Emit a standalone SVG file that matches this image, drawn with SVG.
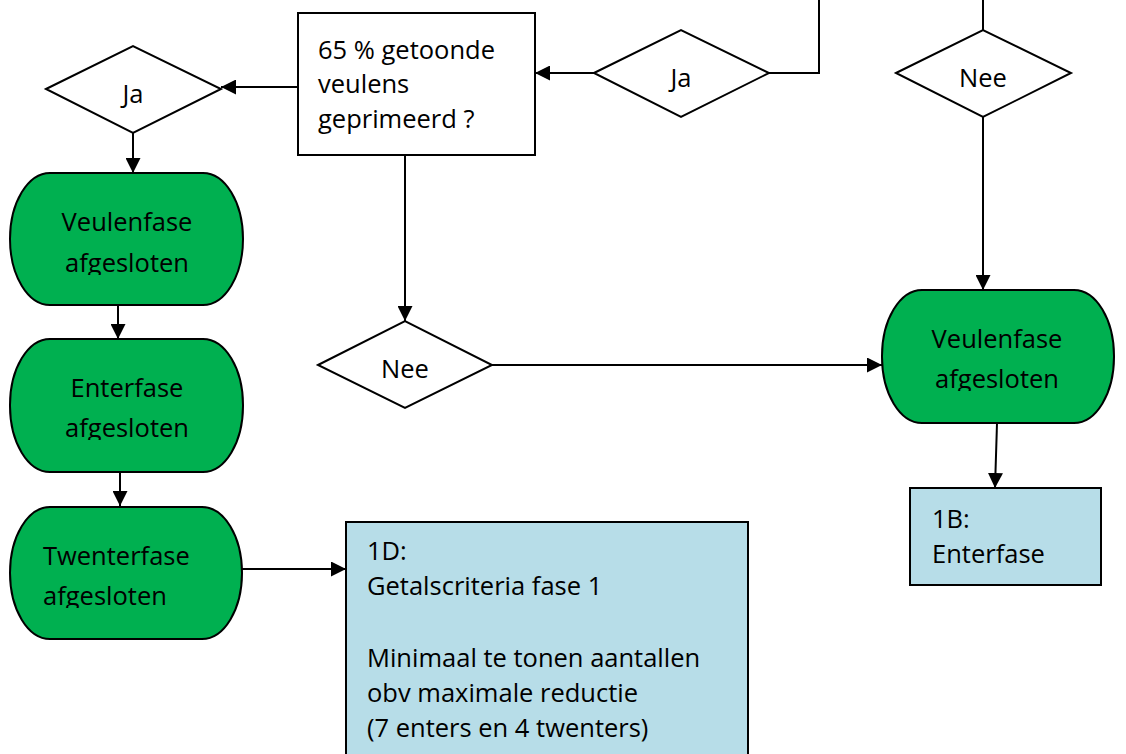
<svg xmlns="http://www.w3.org/2000/svg" width="1126" height="754" viewBox="0 0 1126 754">
<style>
.t{font-family:"Open Sans","Noto Sans","Liberation Sans",sans-serif;font-size:25.5px;fill:#000}
.c{text-anchor:middle}
.line{fill:none;stroke:#000;stroke-width:2}
.box{fill:#fff;stroke:#000;stroke-width:2}
.green{fill:#00b050;stroke:#000;stroke-width:2}
.blue{fill:#b7dde8;stroke:#000;stroke-width:2}
</style>
<defs>
<marker id="ah" markerUnits="userSpaceOnUse" markerWidth="15" markerHeight="15" refX="15" refY="7.5" orient="auto">
<path d="M0,0 L15,7.5 L0,15 z" fill="#000"/>
</marker>
<clipPath id="cg1"><rect x="0" y="160" width="260" height="115"/></clipPath>
<clipPath id="cg2"><rect x="0" y="330" width="260" height="110"/></clipPath>
<clipPath id="cg3"><rect x="0" y="500" width="260" height="108"/></clipPath>
<clipPath id="cgr"><rect x="870" y="280" width="256" height="111"/></clipPath>
<clipPath id="cnee"><rect x="300" y="300" width="220" height="79"/></clipPath>
</defs>
<g id="connectors">
<path class="line" d="M298,87 L221,87" marker-end="url(#ah)"/>
<path class="line" d="M133,133 L133,173" marker-end="url(#ah)"/>
<path class="line" d="M118,297 L118,339" marker-end="url(#ah)"/>
<path class="line" d="M120,472 L120,506" marker-end="url(#ah)"/>
<path class="line" d="M242,569 L346,569" marker-end="url(#ah)"/>
<path class="line" d="M819,0 L819,73 L769,73"/>
<path class="line" d="M594,73 L535,73" marker-end="url(#ah)"/>
<path class="line" d="M983,0 L983,30"/>
<path class="line" d="M983,117 L983,290" marker-end="url(#ah)"/>
<path class="line" d="M405,155 L405,321" marker-end="url(#ah)"/>
<path class="line" d="M492,365 L882,365" marker-end="url(#ah)"/>
<path class="line" d="M997,423 L995,488" marker-end="url(#ah)"/>
</g>
<g id="question">
<rect class="box" x="298" y="13" width="237" height="142"/>
<text class="t" x="318" y="59">65 % getoonde</text>
<text class="t" x="318" y="93">veulens</text>
<text class="t" x="318" y="128">geprimeerd ?</text>
</g>
<g id="ja-left">
<polygon class="box" points="46,89 133,46 221,89 133,133"/>
<text class="t c" x="133" y="103">Ja</text>
</g>
<g id="ja-top">
<polygon class="box" points="594,73 681,30 769,73 681,117"/>
<text class="t c" x="681" y="87">Ja</text>
</g>
<g id="nee-top">
<polygon class="box" points="896,73 983,30 1071,73 983,117"/>
<text class="t c" x="983" y="87">Nee</text>
</g>
<g id="nee-mid">
<polygon class="box" points="318,365 405,321 492,365 405,408"/>
<text class="t c" x="405" y="378" clip-path="url(#cnee)">Nee</text>
</g>
<g id="veulenfase-left">
<rect class="green" x="10" y="173" width="233" height="132" rx="40" ry="66"/>
<g clip-path="url(#cg1)">
<text class="t c" x="127" y="231">Veulenfase</text>
<text class="t c" x="127" y="272">afgesloten</text>
</g>
</g>
<g id="enterfase-left">
<rect class="green" x="10" y="339" width="233" height="133" rx="40" ry="66"/>
<g clip-path="url(#cg2)">
<text class="t c" x="127" y="397">Enterfase</text>
<text class="t c" x="127" y="437">afgesloten</text>
</g>
</g>
<g id="twenterfase-left">
<rect class="green" x="10" y="507" width="232" height="132" rx="40" ry="66"/>
<g clip-path="url(#cg3)">
<text class="t" x="43" y="565">Twenterfase</text>
<text class="t" x="43" y="605">afgesloten</text>
</g>
</g>
<g id="veulenfase-right">
<rect class="green" x="882" y="290" width="232" height="133" rx="40" ry="66"/>
<g clip-path="url(#cgr)">
<text class="t c" x="997" y="348">Veulenfase</text>
<text class="t c" x="997" y="388">afgesloten</text>
</g>
</g>
<g id="box-1b">
<rect class="blue" x="910" y="488" width="191" height="97"/>
<text class="t" x="932" y="528">1B:</text>
<text class="t" x="932" y="563">Enterfase</text>
</g>
<g id="box-1d">
<rect class="blue" x="346" y="522" width="402" height="240"/>
<text class="t" x="367" y="560">1D:</text>
<text class="t" x="367" y="595">Getalscriteria fase 1</text>
<text class="t" x="367" y="667">Minimaal te tonen aantallen</text>
<text class="t" x="367" y="702">obv maximale reductie</text>
<text class="t" x="367" y="737">(7 enters en 4 twenters)</text>
</g>
</svg>
